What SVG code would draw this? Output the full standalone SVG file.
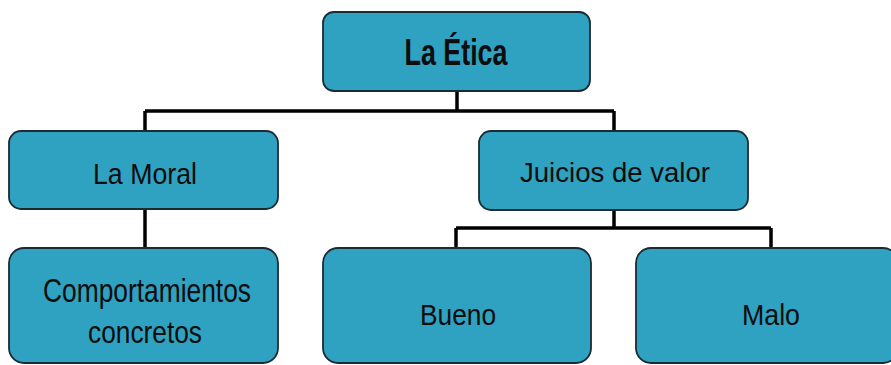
<svg xmlns="http://www.w3.org/2000/svg" width="891" height="365" viewBox="0 0 891 365">
<style>
.box{fill:#2fa1c1;stroke:#1b2b33;stroke-width:1.8}
.t{font-family:"Liberation Sans",Arial,sans-serif;font-size:29px;fill:#0d0d0d;text-anchor:middle}
.b{font-weight:bold;font-size:36px}
.c{fill:none;stroke:#000;stroke-width:3.5}
</style>
<rect width="891" height="365" fill="#fff"/>
<g id="connectors">
<path class="c" d="M457,91 V111 M145,111 H614 M145,111 V131 M614,111 V131"/>
<path class="c" d="M145,209 V248"/>
<path class="c" d="M614,210 V228 M456,228 H771 M456,228 V248 M771,228 V248"/>
</g>
<g id="etica">
<rect class="box" x="323" y="12" width="267" height="79" rx="11"/>
<text class="t b" x="456" y="65" textLength="103" lengthAdjust="spacingAndGlyphs">La Ética</text>
</g>
<g id="moral">
<rect class="box" x="9" y="131" width="269" height="78" rx="12"/>
<text class="t" x="145" y="184" textLength="104" lengthAdjust="spacingAndGlyphs">La Moral</text>
</g>
<g id="juicios">
<rect class="box" x="479" y="131" width="269" height="79" rx="12"/>
<text class="t" x="615" y="182" style="font-size:28px" textLength="190" lengthAdjust="spacingAndGlyphs">Juicios de valor</text>
</g>
<g id="comportamientos">
<rect class="box" x="9" y="248" width="269" height="115" rx="15"/>
<text class="t" x="147" y="302" style="font-size:34px" textLength="208" lengthAdjust="spacingAndGlyphs">Comportamientos</text>
<text class="t" x="145" y="343" style="font-size:32px" textLength="114" lengthAdjust="spacingAndGlyphs">concretos</text>
</g>
<g id="bueno">
<rect class="box" x="323" y="248" width="268" height="115" rx="15"/>
<text class="t" x="458" y="325" style="font-size:30px" textLength="76" lengthAdjust="spacingAndGlyphs">Bueno</text>
</g>
<g id="malo">
<rect class="box" x="636" y="248" width="262" height="115" rx="15"/>
<text class="t" x="771" y="325" style="font-size:30px" textLength="58" lengthAdjust="spacingAndGlyphs">Malo</text>
</g>
</svg>
